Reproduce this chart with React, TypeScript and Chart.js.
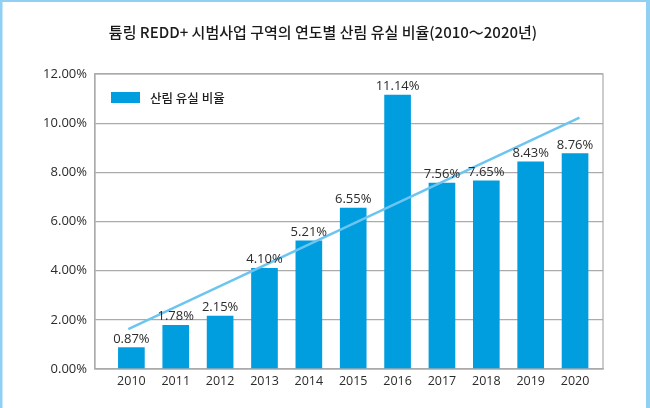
import React, { useEffect, useRef } from "react";
import { Chart, registerables } from "chart.js";

Chart.register(...registerables);

const years = [2010, 2011, 2012, 2013, 2014, 2015, 2016, 2017, 2018, 2019, 2020];
const lossRates = [0.87, 1.78, 2.15, 4.1, 5.21, 6.55, 11.14, 7.56, 7.65, 8.43, 8.76];
const trendX = [2009.93, 2020.1];
const trendY = [1.62, 10.23];
const yTicks = [0, 2, 4, 6, 8, 10, 12];

const TITLE = "튬링 REDD+ 시범사업 구역의 연도별 산림 유실 비율(2010～2020년)";
const SERIES = "산림 유실 비율";
const BAR_COLOR = "#009ddf";
const TREND_COLOR = "#6cc5f0";
const FRAME_COLOR = "#8fd0f3";
const TEXT_COLOR = "#2b2b2b";
const GRID_COLOR = "#ababab";
const LATIN = "'Open Sans', 'Noto Sans', sans-serif";
const KOREAN = "'Noto Sans CJK KR', 'Noto Sans', sans-serif";

const decorPlugin = {
  id: "decor",
  beforeDraw(chart: any) {
    const { ctx, width, height } = chart;
    ctx.save();
    ctx.fillStyle = "#ffffff";
    ctx.fillRect(0, 0, width, height);
    ctx.fillStyle = FRAME_COLOR;
    ctx.fillRect(0, 0, width, 2);
    ctx.fillRect(0, 0, 2.5, height);
    ctx.fillRect(646, 0, width - 646, height);
    ctx.restore();
  },
  afterDatasetsDraw(chart: any) {
    const { ctx, chartArea } = chart;
    ctx.save();
    // plot frame
    ctx.strokeStyle = GRID_COLOR;
    ctx.lineWidth = 1.2;
    ctx.strokeRect(chartArea.left, chartArea.top, chartArea.right - chartArea.left, chartArea.bottom - chartArea.top);

    // value labels above bars
    const meta = chart.getDatasetMeta(1);
    ctx.fillStyle = TEXT_COLOR;
    ctx.font = `13px ${LATIN}`;
    ctx.textAlign = "center";
    ctx.textBaseline = "alphabetic";
    meta.data.forEach((bar: any, i: number) => {
      ctx.fillText(lossRates[i].toFixed(2) + "%", bar.x, bar.y - 5);
    });

    // legend inside the plot
    const ds = chart.data.datasets[1];
    ctx.fillStyle = ds.backgroundColor;
    ctx.fillRect(111, 92, 29, 11);
    ctx.fillStyle = "#1e1e1e";
    ctx.font = `500 12.5px ${KOREAN}`;
    ctx.textAlign = "left";
    ctx.textBaseline = "middle";
    ctx.fillText(ds.label, 150, 98);

    // title
    ctx.fillStyle = "#1a1a1a";
    ctx.font = `500 15px ${KOREAN}`;
    ctx.textAlign = "center";
    ctx.fillText(TITLE, 323, 32);
    ctx.restore();
  },
};

export default function App() {
  const canvasRef = useRef<HTMLCanvasElement | null>(null);

  useEffect(() => {
    const canvas = canvasRef.current;
    if (!canvas) return;
    const chart = new Chart(canvas, {
      type: "bar",
      data: {
        datasets: [
          {
            type: "line",
            label: "trend",
            data: trendX.map((x, i) => ({ x, y: trendY[i] })),
            borderColor: TREND_COLOR,
            borderWidth: 2.5,
            pointRadius: 0,
            fill: false,
            order: 0,
          } as any,
          {
            type: "bar",
            label: SERIES,
            data: years.map((x, i) => ({ x, y: lossRates[i] })),
            backgroundColor: BAR_COLOR,
            barThickness: 26,
            order: 1,
          },
        ],
      },
      options: {
        responsive: false,
        animation: false,
        layout: { padding: { top: 74, right: 47, left: 0, bottom: 0 } },
        plugins: {
          legend: { display: false },
          title: { display: false },
          tooltip: { enabled: false },
        },
        scales: {
          x: {
            type: "linear",
            offset: false,
            min: 2009.18,
            max: 2020.63,
            afterBuildTicks(scale: any) {
              scale.ticks = years.map((v) => ({ value: v }));
            },
            afterFit(scale: any) {
              scale.height = 39;
            },
            grid: { display: false, drawTicks: false, offset: false },
            border: { display: true, color: GRID_COLOR, width: 1.2 },
            ticks: {
              padding: 5,
              color: TEXT_COLOR,
              font: { family: LATIN, size: 12.5 },
              callback: (v: any) => String(v),
              autoSkip: false,
              maxRotation: 0,
            },
          },
          y: {
            min: 0,
            max: 12,
            afterBuildTicks(scale: any) {
              scale.ticks = yTicks.map((v) => ({ value: v }));
            },
            afterFit(scale: any) {
              scale.width = 95;
            },
            grid: { color: GRID_COLOR, lineWidth: 1.2, drawTicks: false },
            border: { display: true, color: GRID_COLOR, width: 1.2 },
            ticks: {
              padding: 8,
              color: TEXT_COLOR,
              font: { family: LATIN, size: 13 },
              callback: (v: any) => Number(v).toFixed(2) + "%",
            },
          },
        },
      } as any,
      plugins: [decorPlugin],
    });
    return () => chart.destroy();
  }, []);

  return (
    <div style={{ position: "absolute", left: 0, top: 0, width: 650, height: 408 }}>
      <canvas ref={canvasRef} width={650} height={408} style={{ width: 650, height: 408, display: "block" }} />
    </div>
  );
}
